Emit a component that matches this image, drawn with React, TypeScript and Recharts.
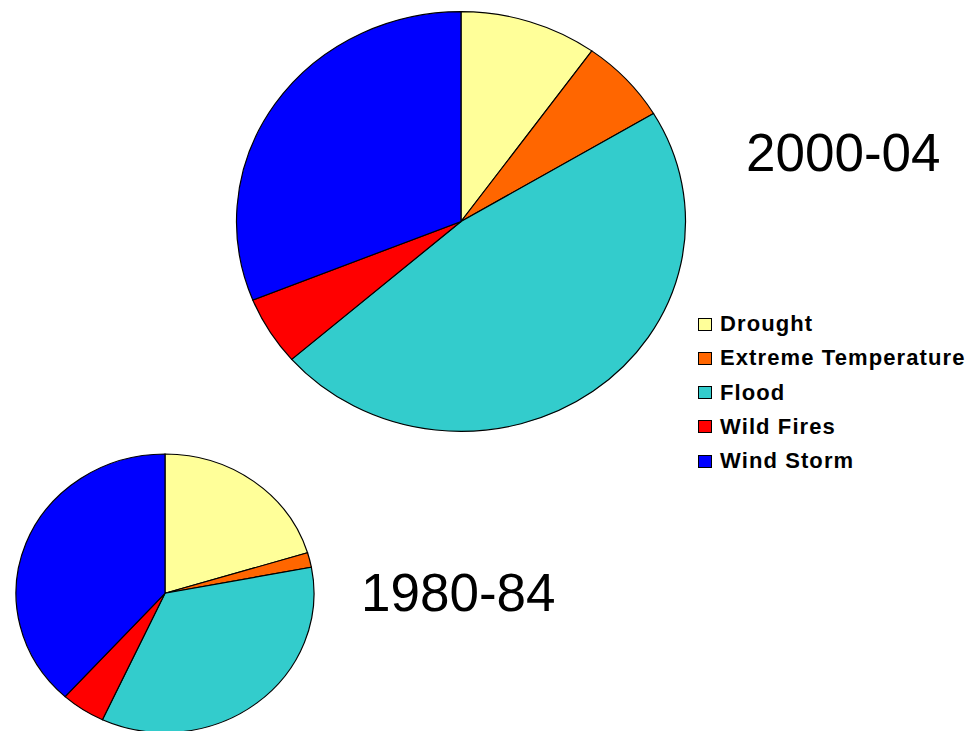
import { PieChart, Pie, Cell } from 'recharts';

const categories = ['Drought', 'Extreme Temperature', 'Flood', 'Wild Fires', 'Wind Storm'];
const colors = ['#FFFF99', '#FF6600', '#33CCCC', '#FF0000', '#0000FF'];
const values2000 = [9.9, 6.5, 47.2, 5.3, 31.1];
const values1980 = [20.3, 1.7, 34.9, 4.8, 38.3];
const periods = ['2000-04', '1980-84'];

// the original pies are slightly squashed ellipses
const SQUASH = 0.935;

const toRows = (vals: number[]) => categories.map((name, i) => ({ name, value: vals[i] }));

const font = '"Liberation Sans", Arial, sans-serif';

export default function App() {
  return (
    <div
      style={{
        position: 'absolute',
        left: 0,
        top: 0,
        width: 972,
        height: 731,
        overflow: 'hidden',
        background: '#fff',
        fontFamily: font,
      }}
    >
      <div style={{ transform: `scaleY(${SQUASH})`, transformOrigin: '0 0' }}>
        <PieChart width={972} height={Math.round(731 / SQUASH)} margin={{ top: 0, right: 0, left: 0, bottom: 0 }}>
          <Pie
            data={toRows(values2000)}
            dataKey="value"
            nameKey="name"
            cx={461}
            cy={221.5 / SQUASH}
            outerRadius={224.5}
            startAngle={90}
            endAngle={-270}
            stroke="#000"
            strokeWidth={1.2}
            isAnimationActive={false}
          >
            {categories.map((c, i) => (
              <Cell key={c} fill={colors[i]} />
            ))}
          </Pie>
          <Pie
            data={toRows(values1980)}
            dataKey="value"
            nameKey="name"
            cx={165}
            cy={593.3 / SQUASH}
            outerRadius={149}
            startAngle={90}
            endAngle={-270}
            stroke="#000"
            strokeWidth={1.2}
            isAnimationActive={false}
          >
            {categories.map((c, i) => (
              <Cell key={c} fill={colors[i]} />
            ))}
          </Pie>
        </PieChart>
      </div>

      <div style={{ position: 'absolute', left: 746, top: 123, fontSize: 53, lineHeight: '60px' }}>{periods[0]}</div>
      <div style={{ position: 'absolute', left: 361, top: 563, fontSize: 53, lineHeight: '60px' }}>{periods[1]}</div>

      <div style={{ position: 'absolute', left: 698, top: 307 }}>
        {categories.map((c, i) => (
          <div key={c} style={{ display: 'flex', alignItems: 'center', height: 34.25 }}>
            <span
              style={{
                width: 12,
                height: 11,
                background: colors[i],
                border: '1px solid #000',
                marginRight: 8,
              }}
            />
            <span style={{ fontSize: 22, fontWeight: 'bold', letterSpacing: 1.1, whiteSpace: 'nowrap' }}>{c}</span>
          </div>
        ))}
      </div>
    </div>
  );
}
